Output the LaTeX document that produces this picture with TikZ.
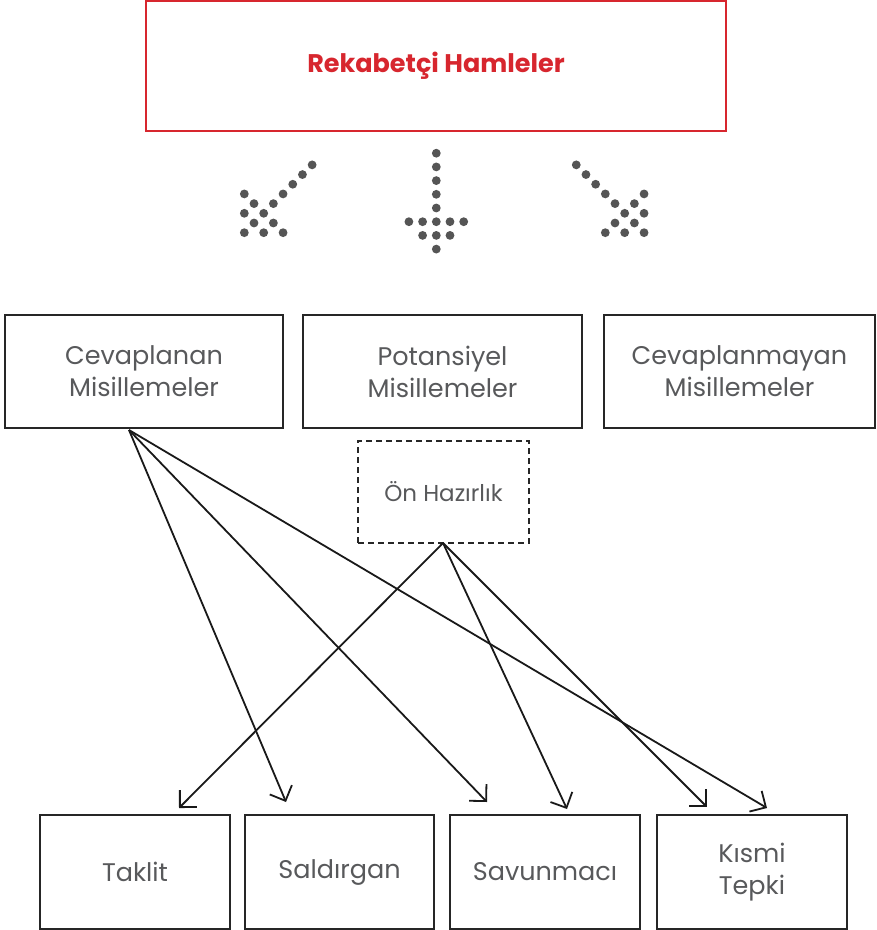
\documentclass[tikz,border=0pt]{standalone}
\usepackage{fontspec}
\setmainfont{Poppins}
\usetikzlibrary{arrows.meta}
\definecolor{txtgray}{HTML}{58595B}
\definecolor{dotgray}{HTML}{555555}
\definecolor{redc}{HTML}{D7262E}
\tikzset{
  box/.style={draw=black!85, line width=2pt, rectangle, align=center, text=txtgray,
    font=\fontsize{25.5}{32}\selectfont, inner sep=0pt},
  topbox/.style={draw=redc, line width=2pt, rectangle, align=center, text=redc,
    font=\fontsize{25.5}{30}\selectfont\bfseries, inner sep=0pt},
  prepbox/.style={draw=black!85, line width=2pt, dash pattern=on 6pt off 4pt, rectangle,
    align=center, text=txtgray, font=\fontsize{23}{28}\selectfont, inner sep=0pt},
  link/.style={line width=1.8pt, draw=black!90, -{Straight Barb[angle=90:17pt, line width=1.8pt]}},
  dotc/.style={fill=dotgray, draw=none},
}
\newcommand{\dotarrow}[3]{%
  \begin{scope}[shift={(#1,#2)}, rotate=#3]
    \foreach \k in {1,...,5} {\fill[dotc] (0,-\k*13.7) circle (4.4pt);}
    \foreach \i in {-2,...,2} {\fill[dotc] (\i*13.7,0) circle (4.4pt);}
    \foreach \i in {-1,...,1} {\fill[dotc] (\i*13.7,13.7) circle (4.4pt);}
    \fill[dotc] (0,27.4) circle (4.4pt);
  \end{scope}}
\begin{document}
\begin{tikzpicture}[x=1pt, y=-1pt]
\useasboundingbox (0,0) rectangle (877,930);

\node[topbox, minimum width=580pt, minimum height=130pt] (top) at (436,66) {Rekabetçi Hamleler};

\dotarrow{263.7}{213.3}{-45}
\dotarrow{436.3}{221.7}{0}
\dotarrow{624.7}{213.3}{45}

\node[box, minimum width=278pt, minimum height=113pt] (cev) at (144,371.5) {Cevaplanan\\Misillemeler};
\node[box, minimum width=279pt, minimum height=113pt] (pot) at (442.5,371.5) {Potansiyel\\Misillemeler};
\node[box, minimum width=271pt, minimum height=113pt] (cvm) at (739.5,371.5) {Cevaplanmayan\\Misillemeler};

\node[prepbox, minimum width=171pt, minimum height=102pt] (on) at (443.5,492) {Ön Hazırlık};

\node[box, minimum width=190pt, minimum height=114pt] (tak) at (135,872) {Taklit};
\node[box, minimum width=189pt, minimum height=114pt] (sal) at (339.5,872) {Saldırgan};
\node[box, minimum width=190pt, minimum height=114pt] (sav) at (545,872) {Savunmacı};
\node[box, minimum width=190pt, minimum height=114pt] (kis) at (752,872) {Kısmi\\Tepki};

\coordinate (cs) at (129,430);
\coordinate (os) at (443,543);
\coordinate (e1) at (179,808);
\coordinate (e2) at (286,802);
\coordinate (e3) at (487,802);
\coordinate (e4) at (567,809);
\coordinate (e5) at (707,807);
\coordinate (e6) at (767,808);

\draw[link] (os) -- (e1);
\draw[link] (cs) -- (e2);
\draw[link] (cs) -- (e3);
\draw[link] (os) -- (e4);
\draw[link] (os) -- (e5);
\draw[link] (cs) -- (e6);
\end{tikzpicture}
\end{document}
